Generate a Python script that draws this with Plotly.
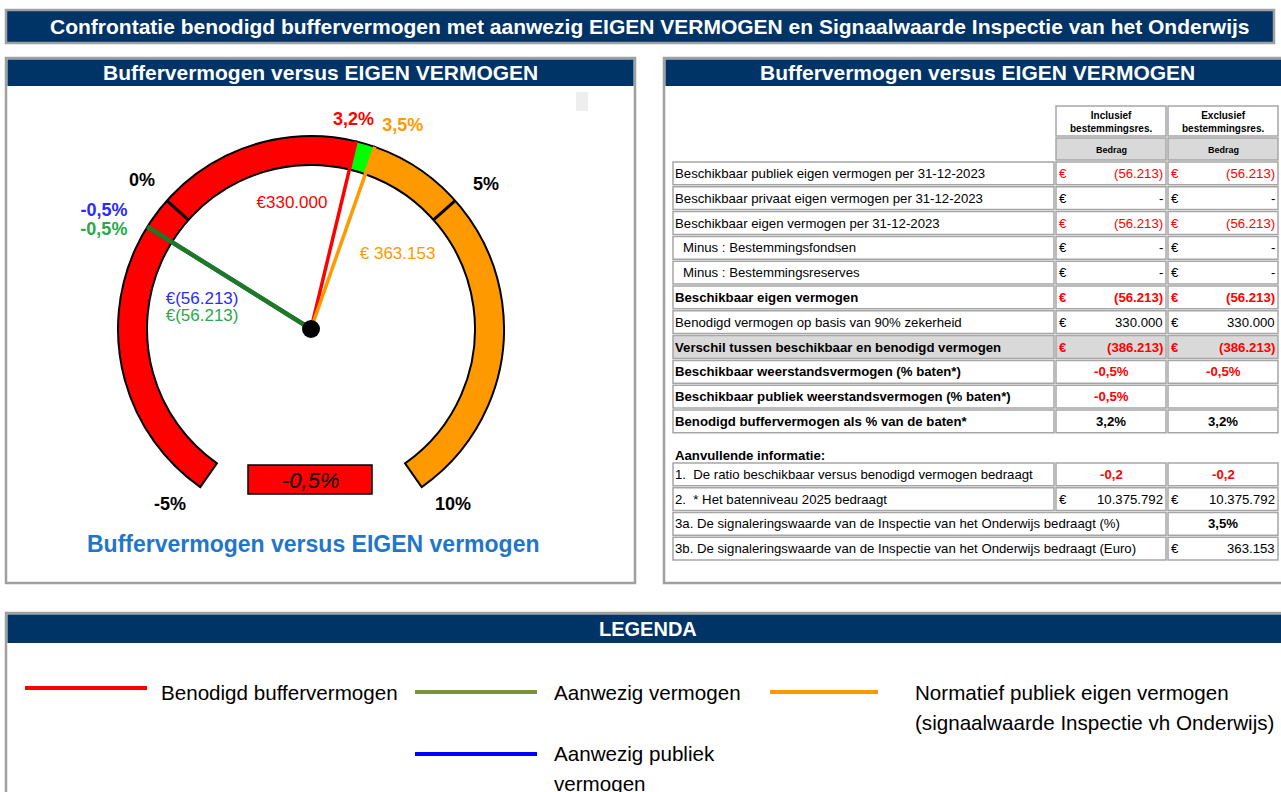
import plotly.graph_objects as go

W, H = 1281, 792
FONT = "Liberation Sans, Arial, sans-serif"

# ---------------- data ----------------
gauge_min = -5.0
gauge_max = 10.0
gauge_ticks = [-5, 0, 5, 10]
benodigd_pct = 3.2
signaal_pct = 3.5
aanwezig_pct = -0.5
aanwezig_publiek_pct = -0.5
benodigd_eur = 330000
signaal_eur = 363153
aanwezig_eur = -56213
aanwezig_publiek_eur = -56213

table_labels = [
    "Beschikbaar publiek eigen vermogen per 31-12-2023",
    "Beschikbaar privaat eigen vermogen per 31-12-2023",
    "Beschikbaar eigen vermogen per 31-12-2023",
    "Minus : Bestemmingsfondsen",
    "Minus : Bestemmingsreserves",
    "Beschikbaar eigen vermogen",
    "Benodigd vermogen op basis van 90% zekerheid",
    "Verschil tussen beschikbaar en benodigd vermogen",
    "Beschikbaar weerstandsvermogen (% baten*)",
    "Beschikbaar publiek weerstandsvermogen (% baten*)",
    "Benodigd buffervermogen als % van de baten*",
]
table_incl = [-56213, 0, -56213, 0, 0, -56213, 330000, -386213, -0.5, -0.5, 3.2]
table_excl = [-56213, 0, -56213, 0, 0, -56213, 330000, -386213, -0.5, None, 3.2]
table_kind = ["eur", "eur", "eur", "eur", "eur", "eur", "eur", "eur", "pct", "pct", "pct"]
col_headers = ["Inclusief<br>bestemmingsres.", "Exclusief<br>bestemmingsres."]
col_subheader = "Bedrag"

extra_title = "Aanvullende informatie:"
extra_labels = [
    "1.\u00a0\u00a0De ratio beschikbaar versus benodigd vermogen bedraagt",
    "2.\u00a0\u00a0* Het batenniveau 2025 bedraagt",
    "3a. De signaleringswaarde van de Inspectie van het Onderwijs bedraagt (%)",
    "3b. De signaleringswaarde van de Inspectie van het Onderwijs bedraagt (Euro)",
]
ratio_incl = -0.2
ratio_excl = -0.2
baten_2025 = 10375792

main_title = "Confrontatie benodigd buffervermogen met aanwezig EIGEN VERMOGEN en Signaalwaarde Inspectie van het Onderwijs"
panel_title = "Buffervermogen versus EIGEN VERMOGEN"
gauge_caption = "Buffervermogen versus EIGEN vermogen"
legend_title = "LEGENDA"
legend_labels = ["Benodigd buffervermogen", "Aanwezig vermogen",
                 "Normatief publiek eigen vermogen<br>(signaalwaarde Inspectie vh Onderwijs)",
                 "Aanwezig publiek<br>vermogen"]

# ---------------- styles ----------------
NAVY = "#003366"
BORDER = "#a0a0a0"
CELL = "#a6a6a6"
GRAYFILL = "#d9d9d9"
RED = "#ff0000"
LIME = "#00ff00"
ORANGE = "#ff9900"
BLUE = "#2a2aff"
DKGREEN = "#1e7a22"
LBLGREEN = "#2aa84a"
row_bold = [False, False, False, False, False, True, False, True, True, True, True]
row_indent = [0, 0, 0, 8, 8, 0, 0, 0, 0, 0, 0]
row_fill = [None] * 7 + [GRAYFILL] + [None] * 3


# ---------------- helpers ----------------
def nl_int(v):
    return f"{abs(int(round(v))):,}".replace(",", ".")


def eur_txt(v):
    if v == 0:
        return "-"
    if v < 0:
        return f"({nl_int(v)})"
    return nl_int(v)


def pct_txt(v, dec=1):
    return f"{v:.{dec}f}".replace(".", ",") + "%"


def num_txt(v):
    return f"{v:.1f}".replace(".", ",")


def X(x):
    return x / W


def Y(y):
    return 1 - y / H


shapes = []
annotations = []


def rect(x0, y0, x1, y1, fill="rgba(0,0,0,0)", line=CELL, lw=1.5, layer="below"):
    shapes.append(dict(type="rect", xref="paper", yref="paper",
                       x0=X(x0), x1=X(x1), y0=Y(y1), y1=Y(y0),
                       fillcolor=fill,
                       line=dict(color=line, width=lw) if lw > 0 else dict(width=0),
                       layer=layer))


def seg(x0, y0, x1, y1, color, lw):
    shapes.append(dict(type="line", xref="paper", yref="paper",
                       x0=X(x0), x1=X(x1), y0=Y(y0), y1=Y(y1),
                       line=dict(color=color, width=lw), layer="above"))


def text(x, y, s, size=13, color="black", bold=False, xanchor="left", italic=False):
    annotations.append(dict(xref="paper", yref="paper", x=X(x), y=Y(y), text=s,
                            showarrow=False, xanchor=xanchor, yanchor="middle",
                            borderpad=0,
                            font=dict(family=FONT, size=size, color=color,
                                      weight="bold" if bold else "normal",
                                      style="italic" if italic else "normal")))


# ---------------- panels ----------------
rect(6, 10, 1274, 43, fill=NAVY, line=BORDER, lw=2.5)
text(650, 26.5, main_title, size=21, color="white", bold=True, xanchor="center")

for (x0, x1, y0, y1, tx) in [(6, 635, 58, 583, 320), (664, 1295, 58, 583, 977)]:
    rect(x0, y0, x1, y1, fill="white", line=BORDER, lw=2.5)
    rect(x0 + 1.5, y0 + 1.5, x1 - 1.5, 86, fill=NAVY, lw=0)
    text(tx, 72.5, panel_title, size=21, color="white", bold=True, xanchor="center")

rect(576, 92, 588, 111, fill="#eeeeee", lw=0)

rect(6, 613, 1295, 800, fill="white", line=BORDER, lw=2.5)
rect(7.5, 614.5, 1295, 643, fill=NAVY, lw=0)
text(648, 629, legend_title, size=20, color="white", bold=True, xanchor="center")

# ---------------- table ----------------
CX = [672, 1055, 1167, 1279]
HDR_Y = [105, 137, 161]
ROW_H = 24.8
T0 = 161
TS = 13.2


def cell(x0, y0, x1, y1, fill="white"):
    rect(x0 + 1, y0 + 1, x1 - 1, y1 - 1, fill=fill, line=CELL, lw=1.5)


for j in range(2):
    cell(CX[j + 1], HDR_Y[0], CX[j + 2], HDR_Y[1])
    cell(CX[j + 1], HDR_Y[1], CX[j + 2], HDR_Y[2], fill=GRAYFILL)
    xc = (CX[j + 1] + CX[j + 2]) / 2
    text(xc, 121.5, col_headers[j], size=10, bold=True, xanchor="center")
    text(xc, 149.5, col_subheader, size=9, bold=True, xanchor="center")


def value_cell(j, yc, v, kind, bold):
    x0, x1 = CX[j + 1], CX[j + 2]
    if v is None:
        return
    col = RED if v < 0 else "black"
    if kind == "eur":
        text(x0 + 3, yc, "€", size=TS, color=col, bold=bold)
        text(x1 - 3, yc, eur_txt(v), size=TS, color=col, bold=bold, xanchor="right")
    else:
        text((x0 + x1) / 2, yc, pct_txt(v), size=TS, color=col, bold=True, xanchor="center")


for i, lab in enumerate(table_labels):
    y0 = T0 + i * ROW_H
    y1 = y0 + ROW_H
    yc = (y0 + y1) / 2
    fill = row_fill[i] or "white"
    for j in range(3):
        cell(CX[j], y0, CX[j + 1], y1, fill=fill)
    text(CX[0] + 2 + row_indent[i], yc, lab, size=TS, bold=row_bold[i])
    value_cell(0, yc, table_incl[i], table_kind[i], row_bold[i])
    value_cell(1, yc, table_excl[i], table_kind[i], row_bold[i])

text(CX[0] + 2, 455, extra_title, size=TS, bold=True)
E0 = 462
EH = 24.75
for i, lab in enumerate(extra_labels):
    y0 = E0 + i * EH
    y1 = y0 + EH
    yc = (y0 + y1) / 2
    if i < 2:
        for j in range(3):
            cell(CX[j], y0, CX[j + 1], y1)
    else:
        cell(CX[0], y0, CX[2], y1)
        cell(CX[2], y0, CX[3], y1)
    text(CX[0] + 2, yc, lab, size=TS)
    if i == 0:
        for j, v in enumerate([ratio_incl, ratio_excl]):
            text((CX[j + 1] + CX[j + 2]) / 2, yc, num_txt(v), size=TS,
                 color=RED if v < 0 else "black", bold=True, xanchor="center")
    elif i == 1:
        for j in range(2):
            value_cell(j, yc, baten_2025, "eur", False)
    elif i == 2:
        text((CX[2] + CX[3]) / 2, yc, pct_txt(signaal_pct), size=TS, bold=True, xanchor="center")
    else:
        value_cell(1, yc, signaal_eur, "eur", False)

# ---------------- legend ----------------
leg_lines = [(25, 147, 688, RED), (415, 537, 692, "#77933c"), (770, 878, 692, ORANGE), (415, 537, 754, "#0000ff")]
leg_text_pos = [(160, 692), (553, 692), (914, 692), (553, 753)]
for (x0, x1, y, c) in leg_lines:
    seg(x0, y, x1, y, c, 4)
for lab, (x, y) in zip(legend_labels, leg_text_pos):
    for k, part in enumerate(lab.split("<br>")):
        text(x, y + 30 * k, part, size=20.6)

# ---------------- gauge (polar) ----------------
CXg, CYg = 311, 329
R_PX = 193.0        # outer radius in px (= 1.0 radial unit)
RAD_PX = 260.0      # half-size of polar domain in px
R_OUT = 1.0
R_IN = 164.0 / R_PX
R_MAX = RAD_PX / R_PX
SWEEP = 290.0


def th(v):
    return (v - gauge_min) / (gauge_max - gauge_min) * SWEEP


fig = go.Figure()

segments = [(gauge_min, benodigd_pct, RED), (benodigd_pct, signaal_pct, LIME), (signaal_pct, gauge_max, ORANGE)]
for a, b, c in segments:
    fig.add_trace(go.Barpolar(r=[R_OUT - R_IN], base=[R_IN], theta=[(th(a) + th(b)) / 2],
                              width=[th(b) - th(a)], marker=dict(color=c, line=dict(color="black", width=2)),
                              hoverinfo="skip", showlegend=False))

for t in gauge_ticks[1:-1]:
    fig.add_trace(go.Scatterpolar(r=[R_IN, R_OUT], theta=[th(t), th(t)], mode="lines",
                                  line=dict(color="black", width=3), hoverinfo="skip", showlegend=False))

needles = [(aanwezig_publiek_pct, "#0000ff", 4), (aanwezig_pct, DKGREEN, 4.5),
           (benodigd_pct, RED, 3.5), (signaal_pct, ORANGE, 3.5)]
for v, c, w in needles:
    fig.add_trace(go.Scatterpolar(r=[0, R_OUT], theta=[th(v), th(v)], mode="lines",
                                  line=dict(color=c, width=w), hoverinfo="skip", showlegend=False))

fig.add_trace(go.Scatterpolar(r=[0], theta=[0], mode="markers", marker=dict(color="black", size=18),
                              hoverinfo="skip", showlegend=False))

# labels: (text, theta, r, color, size, bold)
gauge_labels = [
    (pct_txt(benodigd_pct), 156.5, 1.105, RED, 18, True),
    (pct_txt(signaal_pct), 169.4, 1.152, ORANGE, 18, True),
    (pct_txt(gauge_ticks[1], 0), 96.1, 1.162, "black", 18, True),
    (pct_txt(gauge_ticks[2], 0), 195.6, 1.173, "black", 18, True),
    (pct_txt(gauge_ticks[0], 0), 3.6, 1.170, "black", 18, True),
    (pct_txt(gauge_ticks[3], 0), 286.2, 1.174, "black", 18, True),
    (pct_txt(aanwezig_publiek_pct), 84.6, 1.233, BLUE, 18, True),
    (pct_txt(aanwezig_pct), 80.4, 1.188, LBLGREEN, 18, True),
    ("€" + eur_txt(benodigd_eur), 136.4, 0.658, RED, 17, False),
    ("€ " + eur_txt(signaal_eur), 194.5, 0.590, ORANGE, 17, False),
    ("€" + eur_txt(aanwezig_publiek_eur), 69.9, 0.584, BLUE, 17, False),
    ("€" + eur_txt(aanwezig_eur), 61.5, 0.568, LBLGREEN, 17, False),
]
for s, t, r, c, sz, b in gauge_labels:
    fig.add_trace(go.Scatterpolar(r=[r], theta=[t], mode="text", text=[s], textposition="middle center",
                                  textfont=dict(family=FONT, size=sz, color=c, weight="bold" if b else "normal"),
                                  cliponaxis=False, hoverinfo="skip", showlegend=False))

# value box + caption
rect(248, 465, 372, 494, fill=RED, line="black", lw=1.5)
text(310, 480, pct_txt(aanwezig_pct), size=22, italic=True, xanchor="center")
text(313, 544, gauge_caption, size=23, color="#2276c8", bold=True, xanchor="center")

fig.update_layout(
    width=W, height=H, margin=dict(l=0, r=0, t=0, b=0),
    paper_bgcolor="white", plot_bgcolor="white",
    shapes=shapes, annotations=annotations, showlegend=False,
    polar=dict(
        domain=dict(x=[X(CXg - RAD_PX), X(CXg + RAD_PX)], y=[Y(CYg + RAD_PX), Y(CYg - RAD_PX)]),
        bgcolor="rgba(0,0,0,0)", hole=0,
        radialaxis=dict(visible=False, range=[0, R_MAX]),
        angularaxis=dict(visible=False, rotation=235, direction="clockwise"),
    ),
)

fig.write_html("out.html")
